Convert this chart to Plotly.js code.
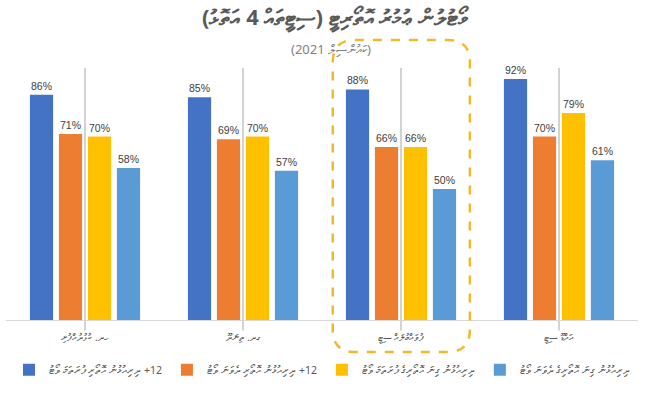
<!DOCTYPE html>
<html>
<head>
<meta charset="utf-8">
<script src="https://cdn.plot.ly/plotly-3.0.1.min.js"></script>
<style>html,body{margin:0;padding:0;background:#fff;}#chart{width:648px;height:393px;}</style>
</head>
<body>
<div id="chart"></div>
<script>
// Text in logical (reading) order
const categories = ['ހދ. ކުޅުދުއްފުށި', 'ގދ. ތިނަދޫ', 'ފުވައްމުލައް ސިޓީ', 'އައްޑޫ ސިޓީ'];
const seriesNames = [
  '12+ ދިރިއުޅުނު އޮތޯރި ފުރަތަމަ ވޯޓު',
  '12+ ދިރިއުޅުނު އޮތޯރި ދެވަނަ ވޯޓު',
  'ދިރިއުޅުނު ގިނަ އޮތޯރިގެ ފުރަތަމަ ވޯޓު',
  'ދިރިއުޅުނު ގިނަ އޮތޯރިގެ ދެވަނަ ވޯޓު'
];
const series1 = [86, 85, 88, 92];
const series2 = [71, 69, 66, 70];
const series3 = [70, 70, 66, 79];
const series4 = [58, 57, 50, 61];
const seriesValues = [series1, series2, series3, series4];
const colors = ['#4472C4', '#ED7D31', '#FFC000', '#5B9BD5'];
const titleText = 'ވޯޓުލުން ޢުމުރު އޮތޯރިޓީ (ސިޓީތައް 4 އަތޮޅު)';
const subtitleText = '(ކައުންސިލް 2021)';

// Right-to-left visual ordering for Thaana strings; clusters are separated by
// LRM marks so the visual order is fixed inside the left-to-right SVG text.
function rtl(s) {
  const tokens = s.match(/[0-9]+|[\u0780-\u07A5][\u07A6-\u07B0]*|./gu) || [];
  const mirror = {'(': ')', ')': '('};
  return '\u200E' + tokens.reverse().map(t => mirror[t] || t).join('\u200E') + '\u200E';
}

const traces = seriesValues.map((vals, i) => ({
  type: 'bar',
  x: categories,
  y: vals,
  name: rtl(seriesNames[i]),
  marker: {color: colors[i]},
  text: vals.map(v => v + '%'),
  textposition: 'outside',
  textfont: {size: 10.5, color: '#404040', family: 'Liberation Sans, Arial, sans-serif'},
  cliponaxis: false,
  hoverinfo: 'none'
}));

const shapes = categories.map(c => ({
  type: 'line', xref: 'x', yref: 'paper', layer: 'below',
  x0: c, x1: c, y0: -0.04, y1: 0.962,
  line: {color: '#a6a6a6', width: 1}
}));
// rounded dashed highlight around third group
const L = 0.517, R = 0.734, T = 1.069, B = -0.122, rx = 0.035, ry = 0.085;
shapes.push({
  type: 'path', xref: 'paper', yref: 'paper',
  path: `M ${L+rx},${T} L ${R-rx},${T} Q ${R},${T} ${R},${T-ry} L ${R},${B+ry} Q ${R},${B} ${R-rx},${B} L ${L+rx},${B} Q ${L},${B} ${L},${B+ry} L ${L},${T-ry} Q ${L},${T} ${L+rx},${T} Z`,
  line: {color: '#F2B92B', width: 2.5, dash: 'dash'},
  fillcolor: 'rgba(0,0,0,0)'
});

const layout = {
  width: 648, height: 393,
  margin: {l: 6, r: 10, t: 58, b: 73},
  paper_bgcolor: '#fff', plot_bgcolor: '#fff',
  font: {family: 'Noto Sans, DejaVu Sans, sans-serif', color: '#595959'},
  title: {text: rtl(titleText), x: 0.517, xanchor: 'center', y: 0.955, yanchor: 'middle',
          font: {size: 22, color: '#595959', weight: 'bold'}},
  barmode: 'group',
  bargap: 0.266,
  bargroupgap: 0.2,
  xaxis: {
    type: 'category',
    tickvals: categories, ticktext: categories.map(rtl),
    showline: true, linecolor: '#d9d9d9', linewidth: 1,
    ticks: '', showgrid: false, ticklabelstandoff: 8,
    tickfont: {size: 10, color: '#595959'},
    fixedrange: true
  },
  yaxis: {
    range: [0, 100], showticklabels: false, showgrid: false, zeroline: false,
    showline: false, ticks: '', fixedrange: true
  },
  showlegend: true,
  legend: {
    orientation: 'h', x: 0.5, xanchor: 'center', y: -0.19, yanchor: 'middle',
    font: {size: 10.5, color: '#595959'}, traceorder: 'normal',
    itemwidth: 30
  },
  shapes: shapes,
  annotations: [{
    text: rtl(subtitleText), xref: 'paper', yref: 'paper', x: 0.515, y: 1.035,
    xanchor: 'center', yanchor: 'middle', showarrow: false,
    font: {size: 13, color: '#7f7f7f'}
  }]
};

Plotly.newPlot('chart', traces, layout, {displayModeBar: false, staticPlot: true});
</script>
</body>
</html>
